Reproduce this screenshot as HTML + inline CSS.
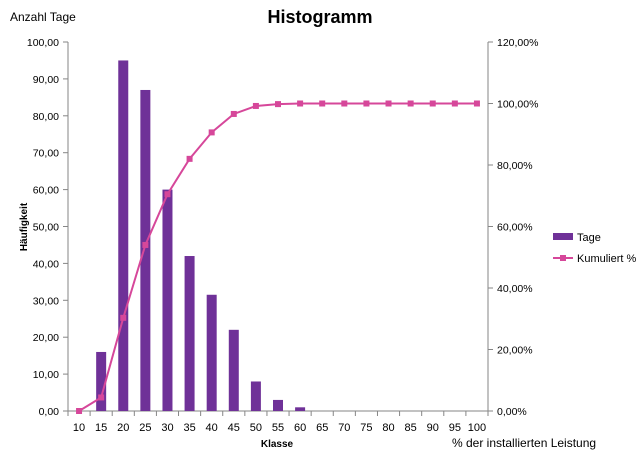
<!DOCTYPE html>
<html><head><meta charset="utf-8"><style>
body{margin:0;background:#fff;font-family:"Liberation Sans",sans-serif;}
svg text{font-family:"Liberation Sans",sans-serif;}
</style></head><body>
<svg id="c" width="640" height="451" xmlns="http://www.w3.org/2000/svg">
<text x="320" y="23" text-anchor="middle" font-size="18" font-weight="bold" fill="#000">Histogramm</text>
<text x="10" y="21" font-size="12" fill="#000">Anzahl Tage</text>
<text transform="translate(27,227) rotate(-90)" text-anchor="middle" font-size="10" font-weight="bold">Häufigkeit</text>
<text x="277" y="447" text-anchor="middle" font-size="10" font-weight="bold">Klasse</text>
<text x="452" y="447" font-size="12">% der installierten Leistung</text>
<g>
<rect x="553" y="233" width="20" height="7" fill="#6F3198"/>
<text x="577" y="241" font-size="11">Tage</text>
<line x1="553" y1="258" x2="573" y2="258" stroke="#D6479A" stroke-width="2"/>
<rect x="560" y="255" width="6" height="6" fill="#D6479A"/>
<text x="577" y="262" font-size="11">Kumuliert %</text>
</g>
</svg>
<script>
const categories=["10","15","20","25","30","35","40","45","50","55","60","65","70","75","80","85","90","95","100"];
const tage=[0,16,95,87,60,42,31.5,22,8,3,1,0,0,0,0,0,0,0,0];
const kumuliert=[0,4.4,30.3,54,70.5,82,90.6,96.6,99.2,99.8,100,100,100,100,100,100,100,100,100];
const leftTicks=["0,00","10,00","20,00","30,00","40,00","50,00","60,00","70,00","80,00","90,00","100,00"];
const rightTicks=["0,00%","20,00%","40,00%","60,00%","80,00%","100,00%","120,00%"];
const svg=document.getElementById('c');
const NS='http://www.w3.org/2000/svg';
const L=68,R=488,T=42,B=411;
const band=(R-L)/categories.length;
const xc=i=>L+band*(i+0.5);
const yl=v=>B-(v/100)*(B-T);
const yr=v=>B-(v/120)*(B-T);
function mk(tag,a){const e=document.createElementNS(NS,tag);for(const k in a)e.setAttribute(k,a[k]);svg.appendChild(e);return e;}
let e=mk('line',{x1:L,y1:T,x2:L,y2:B,stroke:'#868686'});


e=mk('line',{x1:R,y1:T,x2:R,y2:B,stroke:'#868686'});


e=mk('line',{x1:L,y1:B,x2:R,y2:B,stroke:'#868686'});


leftTicks.forEach((t,i)=>{const y=yl(i*10);
mk('line',{x1:L-5,y1:y,x2:L,y2:y,stroke:'#868686'});
e=mk('text',{x:L-9,y:y+4,'text-anchor':'end','font-size':10.5});e.textContent=t;

});
rightTicks.forEach((t,i)=>{const y=yr(i*20);
mk('line',{x1:R,y1:y,x2:R+5,y2:y,stroke:'#868686'});
e=mk('text',{x:R+9,y:y+4,'font-size':10.5});e.textContent=t;

});
for(let i=0;i<=categories.length;i++){const x=L+band*i;mk('line',{x1:x,y1:B,x2:x,y2:B+5,stroke:'#868686'});}
categories.forEach((c,i)=>{e=mk('text',{x:xc(i),y:B+20,'text-anchor':'middle','font-size':11});e.textContent=c;

});
tage.forEach((v,i)=>{if(v<=0)return;const y=yl(v);
e=mk('rect',{x:xc(i)-5,y:y,width:10,height:B-y,fill:'#6F3198'});

});
e=mk('polyline',{points:kumuliert.map((v,i)=>xc(i)+','+yr(v)).join(' '),fill:'none',stroke:'#D6479A','stroke-width':2});


kumuliert.forEach((v,i)=>{e=mk('rect',{x:xc(i)-3,y:yr(v)-3,width:6,height:6,fill:'#D6479A'});

});
</script>
</body></html>
